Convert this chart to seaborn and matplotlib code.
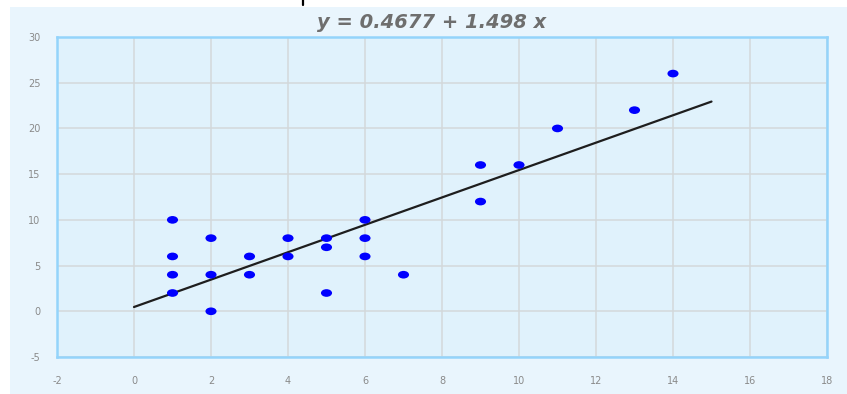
import numpy as np
import pandas as pd
import matplotlib
matplotlib.use("Agg")
import matplotlib.pyplot as plt
from matplotlib.path import Path
from matplotlib.patches import Rectangle
from matplotlib.lines import Line2D
import seaborn as sns

# Observations
x_values = [1, 1, 1, 1, 2, 2, 2, 3, 3, 4, 4, 5, 5, 5, 6, 6, 6, 7, 9, 9, 10, 11, 13, 14]
y_values = [10, 6, 4, 2, 8, 4, 0, 6, 4, 8, 6, 8, 7, 2, 10, 8, 6, 4, 16, 12, 16, 20, 22, 26]

# Fitted regression line
intercept = 0.4677
slope = 1.498
line_x = [0, 15]

x_ticks = [-2, 0, 2, 4, 6, 8, 10, 12, 14, 16, 18]
y_ticks = [-5, 0, 5, 10, 15, 20, 25, 30]

sns.set_theme(style="white")
plt.rcParams["font.family"] = ["DejaVu Sans"]

fig = plt.figure(figsize=(8.47, 3.94), dpi=100)
fig.patch.set_facecolor("white")

# light panel behind the chart
fig.add_artist(Rectangle((10 / 847, 0), 1, 1 - 7 / 394, transform=fig.transFigure,
                         facecolor="#e9f5fd", edgecolor="none", zorder=0))
fig.add_artist(Line2D([303 / 847, 303 / 847], [1 - 5 / 394, 1], transform=fig.transFigure,
                      color="black", linewidth=1.6))

ax = fig.add_axes([57 / 847, 1 - 357 / 394, (827 - 57) / 847, (357 - 37) / 394])
ax.set_facecolor("#e0f2fc")

df = pd.DataFrame({"x": x_values, "y": y_values})
line_df = pd.DataFrame({"x": line_x, "y": [intercept + slope * v for v in line_x]})

circle = Path.unit_circle()
ellipse = Path(circle.vertices * np.array([1.45, 1.0]), circle.codes)

sns.lineplot(data=line_df, x="x", y="y", ax=ax, color="#1e1e1e", linewidth=1.6, zorder=3)
sns.scatterplot(data=df, x="x", y="y", ax=ax, marker=ellipse, s=64,
                color="#0000ff", edgecolor="none", linewidth=0, zorder=4)

ax.set_xlim(-2, 18)
ax.set_ylim(-5, 30)
ax.set_xticks(x_ticks)
ax.set_yticks(y_ticks)
ax.set_xticklabels([str(t) for t in x_ticks])
ax.set_yticklabels([str(t) for t in y_ticks])
ax.grid(True, color="#d3d8db", linewidth=1.1)
ax.set_axisbelow(True)
ax.set_xlabel("")
ax.set_ylabel("")

for spine in ax.spines.values():
    spine.set_color("#94d4fb")
    spine.set_linewidth(1.8)
    spine.set_visible(True)

ax.tick_params(axis="both", which="both", length=6, width=1, color="#d6dadd",
               labelsize=7, labelcolor="#8a8a8a")
ax.tick_params(axis="x", pad=8)
ax.tick_params(axis="y", pad=6)

fig.text(432 / 847, 1 - 22 / 394, "y = 0.4677 + 1.498 x", ha="center", va="center",
         fontsize=14, fontweight="bold", fontstyle="italic", color="#6e6e6e")

fig.savefig("out.png", dpi=100, facecolor=fig.get_facecolor())
